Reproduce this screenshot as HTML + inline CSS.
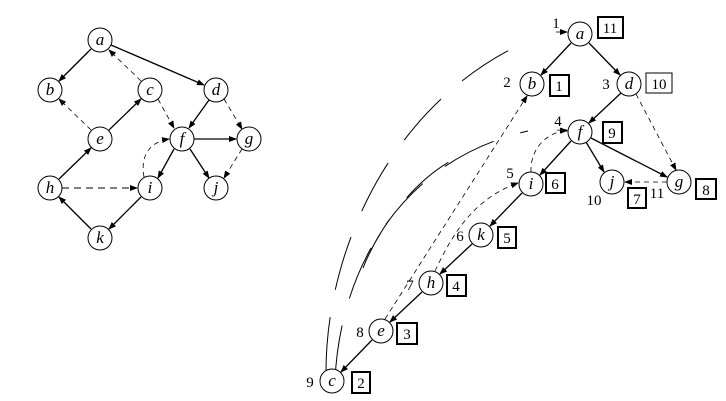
<!DOCTYPE html>
<html><head><style>
html,body{margin:0;padding:0;background:#fff;}
svg{display:block;}
text{font-family:"Liberation Serif",serif;font-size:15px;}
.n{font-style:italic;font-size:17px;}
</style></head><body>
<svg width="726" height="401" viewBox="0 0 726 401" xmlns="http://www.w3.org/2000/svg">
<defs>
<marker id="ar" markerWidth="8" markerHeight="6" refX="7" refY="3" orient="auto" markerUnits="userSpaceOnUse">
<path d="M0,0 L8,3 L0,6 Z" fill="#000"/></marker>
</defs>
<g stroke="#000" fill="none" stroke-width="1.3">
<line x1="91" y1="49" x2="59" y2="81" marker-end="url(#ar)"/>
<line x1="111" y1="45" x2="204" y2="85" marker-end="url(#ar)"/>
<line x1="109" y1="130" x2="141" y2="99" marker-end="url(#ar)"/>
<line x1="209" y1="100" x2="189" y2="128" marker-end="url(#ar)"/>
<line x1="194" y1="139" x2="236" y2="139" marker-end="url(#ar)"/>
<line x1="174" y1="149" x2="158" y2="178" marker-end="url(#ar)"/>
<line x1="190" y1="149" x2="209" y2="178" marker-end="url(#ar)"/>
<line x1="59" y1="179" x2="91" y2="148" marker-end="url(#ar)"/>
<line x1="141" y1="197" x2="109" y2="229" marker-end="url(#ar)"/>
<line x1="91" y1="229" x2="59" y2="197" marker-end="url(#ar)"/>
</g>
<g stroke="#000" fill="none" stroke-width="0.8" stroke-dasharray="5,4">
<line x1="141" y1="81" x2="109" y2="50" marker-end="url(#ar)"/>
<line x1="91" y1="130" x2="59" y2="99" marker-end="url(#ar)"/>
<line x1="158" y1="99" x2="174" y2="128" marker-end="url(#ar)"/>
<line x1="224" y1="99" x2="242" y2="129" marker-end="url(#ar)"/>
<line x1="242" y1="149" x2="224" y2="178" marker-end="url(#ar)"/>
<line x1="62" y1="188" x2="137" y2="188" marker-end="url(#ar)" stroke-dasharray="7,5" stroke-width="1"/>
<path d="M144,177 C140,155 150,142 169,139" marker-end="url(#ar)"/>
</g>
<g stroke="#000" fill="#fff" stroke-width="1">
<circle cx="100" cy="40" r="12"/><circle cx="50" cy="90" r="12"/><circle cx="150" cy="90" r="12"/>
<circle cx="216" cy="90" r="12"/><circle cx="100" cy="139" r="12"/><circle cx="182" cy="139" r="12"/>
<circle cx="249" cy="139" r="12"/><circle cx="50" cy="188" r="12"/><circle cx="150" cy="188" r="12"/>
<circle cx="216" cy="188" r="12"/><circle cx="100" cy="238" r="12"/>
</g>
<g text-anchor="middle">
<text class="n" x="100" y="45">a</text><text class="n" x="50" y="95">b</text><text class="n" x="150" y="95">c</text>
<text class="n" x="216" y="95">d</text><text class="n" x="100" y="144">e</text><text class="n" x="182" y="144">f</text>
<text class="n" x="249" y="144">g</text><text class="n" x="50" y="193">h</text><text class="n" x="150" y="193">i</text>
<text class="n" x="216" y="193">j</text><text class="n" x="100" y="243">k</text>
</g>

<g stroke="#000" fill="none" stroke-width="1" stroke-dasharray="55,28">
<path d="M326,372 C326,250 390,110 515,47"/>
<path d="M335,380 C340,270 400,160 528,131"/>
<path d="M363,268 C380,225 420,170 470,152"/>
</g>
<g stroke="#000" fill="none" stroke-width="0.8">
<line x1="556" y1="32" x2="567" y2="32" marker-end="url(#ar)"/>
<line x1="557" y1="130" x2="567" y2="131" marker-end="url(#ar)"/>
</g>
<g stroke="#000" fill="none" stroke-width="1.3">
<line x1="571" y1="43" x2="541" y2="75" marker-end="url(#ar)"/>
<line x1="589" y1="43" x2="620" y2="75" marker-end="url(#ar)"/>
<line x1="621" y1="93" x2="589" y2="123" marker-end="url(#ar)"/>
<line x1="571" y1="141" x2="540" y2="175" marker-end="url(#ar)"/>
<line x1="586" y1="142" x2="604" y2="172" marker-end="url(#ar)"/>
<line x1="591" y1="138" x2="667" y2="177" marker-end="url(#ar)"/>
<line x1="522" y1="193" x2="490" y2="226" marker-end="url(#ar)"/>
<line x1="472" y1="244" x2="440" y2="274" marker-end="url(#ar)"/>
<line x1="422" y1="292" x2="390" y2="322" marker-end="url(#ar)"/>
<line x1="372" y1="340" x2="341" y2="372" marker-end="url(#ar)"/>
</g>
<g stroke="#000" fill="none" stroke-width="0.8" stroke-dasharray="5,4">
<line x1="636" y1="94" x2="676" y2="170" marker-end="url(#ar)"/>
<line x1="667" y1="182" x2="625" y2="182" marker-end="url(#ar)"/>
<path d="M531,172 C530,150 545,133 567,130" marker-end="url(#ar)"/>
<line x1="385" y1="319" x2="527" y2="96" marker-end="url(#ar)"/>
<path d="M435,271 C450,240 470,200 518,183" marker-end="url(#ar)"/>
</g>
<g stroke="#000" fill="#fff" stroke-width="1">
<circle cx="580" cy="34" r="12"/><circle cx="532" cy="84" r="12"/><circle cx="629" cy="84" r="12"/>
<circle cx="580" cy="132" r="12"/><circle cx="531" cy="184" r="12"/><circle cx="612" cy="182" r="12"/>
<circle cx="679" cy="182" r="12"/><circle cx="481" cy="235" r="12"/><circle cx="431" cy="283" r="12"/>
<circle cx="381" cy="331" r="12"/><circle cx="332" cy="381" r="12"/>
</g>
<g text-anchor="middle">
<text class="n" x="580" y="39">a</text><text class="n" x="532" y="89">b</text><text class="n" x="629" y="89">d</text>
<text class="n" x="580" y="137">f</text><text class="n" x="531" y="189">i</text><text class="n" x="612" y="187">j</text>
<text class="n" x="679" y="187">g</text><text class="n" x="481" y="240">k</text><text class="n" x="431" y="288">h</text>
<text class="n" x="381" y="336">e</text><text class="n" x="332" y="386">c</text>
</g>
<g stroke="#000" fill="none" stroke-width="2">
<rect x="598" y="17" width="25" height="21"/>
<rect x="550" y="75" width="19" height="21"/>
<rect x="646" y="73" width="26" height="20" stroke-width="1"/>
<rect x="603" y="122" width="19" height="21"/>
<rect x="546" y="173" width="19" height="20"/>
<rect x="628" y="188" width="18" height="20"/>
<rect x="696" y="179" width="20" height="20"/>
<rect x="498" y="227" width="18" height="21"/>
<rect x="447" y="275" width="19" height="21"/>
<rect x="397" y="323" width="20" height="21"/>
<rect x="352" y="372" width="18" height="21"/>
</g>
<g text-anchor="middle">
<text x="610" y="33">11</text><text x="559" y="91">1</text><text x="659" y="89">10</text>
<text x="612" y="138">9</text><text x="555" y="189">6</text><text x="637" y="204">7</text>
<text x="706" y="195">8</text><text x="507" y="243">5</text><text x="456" y="291">4</text>
<text x="407" y="339">3</text><text x="361" y="388">2</text>
<text x="556" y="28">1</text><text x="507" y="87">2</text><text x="606" y="89">3</text>
<text x="558" y="126">4</text><text x="510" y="178">5</text><text x="594" y="205">10</text>
<text x="657" y="198">11</text><text x="460" y="241">6</text><text x="410" y="290">7</text>
<text x="360" y="337">8</text><text x="310" y="387">9</text>
</g>
</svg>
</body></html>
